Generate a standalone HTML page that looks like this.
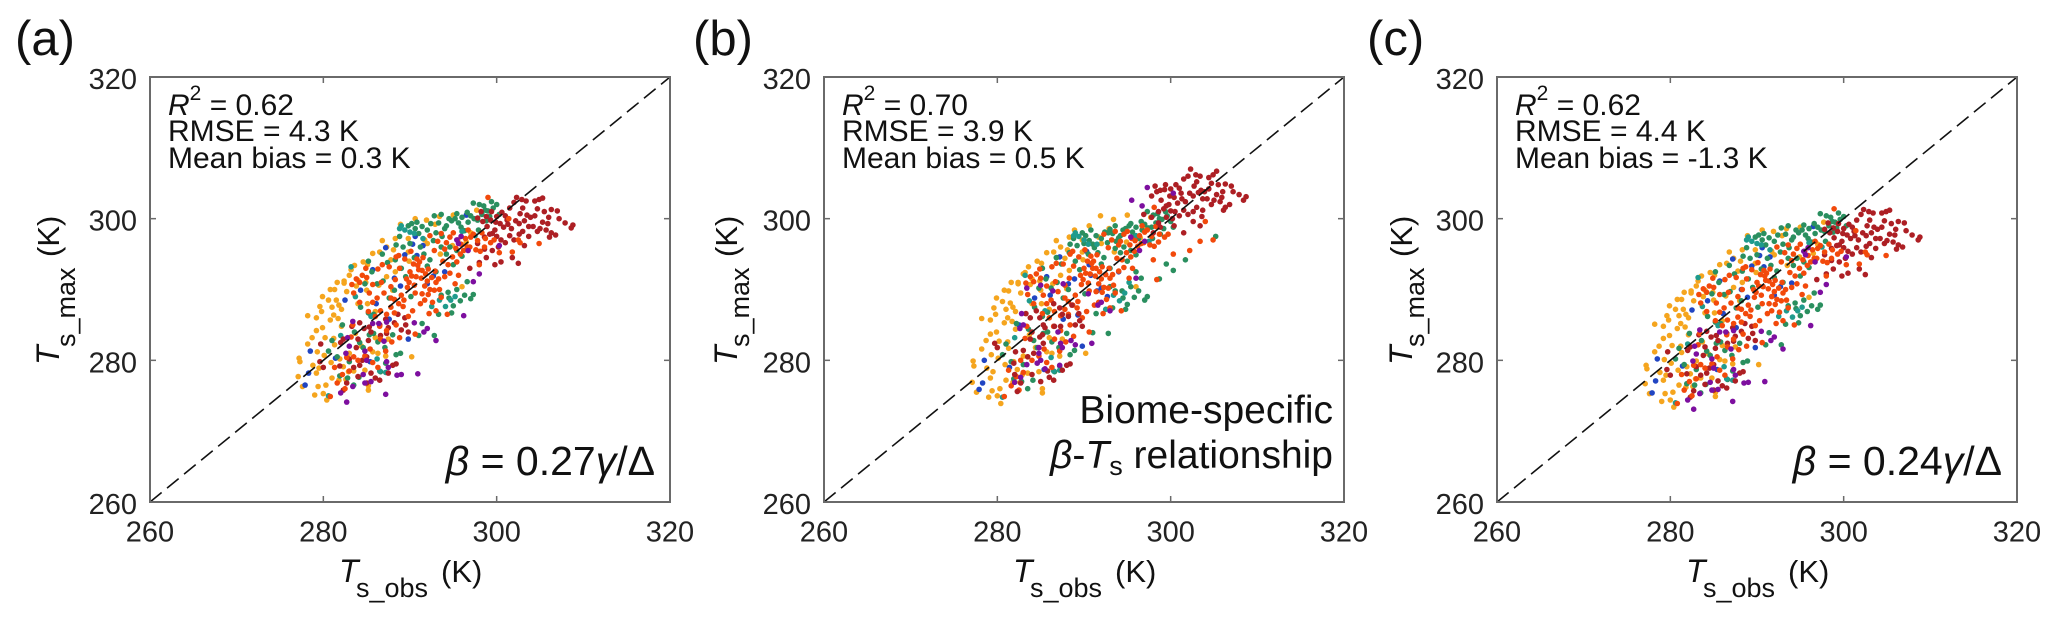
<!DOCTYPE html>
<html lang="en">
<head>
<meta charset="utf-8">
<title>Modelled versus observed surface temperature</title>
<style>
html,body{margin:0;padding:0;background:#fff;}
svg{display:block;font-family:"Liberation Sans",Arial,sans-serif;fill:#111;}
</style>
</head>
<body>
<svg id="chart" width="2067" height="621" viewBox="0 0 2067 621" xmlns="http://www.w3.org/2000/svg">
  <rect x="0" y="0" width="2067" height="621" fill="#fff"/>
  <g id="plots"></g>

  <text x="15" y="55" font-size="49">(a)</text>
  <text x="693" y="55" font-size="49">(b)</text>
  <text x="1367" y="55" font-size="49">(c)</text>

  <g font-size="30">
    <text x="168" y="115"><tspan font-style="italic">R</tspan><tspan font-size="21" dy="-15">2</tspan><tspan dy="15"> = 0.62</tspan></text>
    <text x="168" y="141">RMSE = 4.3 K</text>
    <text x="168" y="168">Mean bias = 0.3 K</text>
  </g>
  <g font-size="30">
    <text x="842" y="115"><tspan font-style="italic">R</tspan><tspan font-size="21" dy="-15">2</tspan><tspan dy="15"> = 0.70</tspan></text>
    <text x="842" y="141">RMSE = 3.9 K</text>
    <text x="842" y="168">Mean bias = 0.5 K</text>
  </g>
  <g font-size="30">
    <text x="1515" y="115"><tspan font-style="italic">R</tspan><tspan font-size="21" dy="-15">2</tspan><tspan dy="15"> = 0.62</tspan></text>
    <text x="1515" y="141">RMSE = 4.4 K</text>
    <text x="1515" y="168">Mean bias = -1.3 K</text>
  </g>

  <text x="655" y="475" font-size="41" text-anchor="end"><tspan font-style="italic">β</tspan> = 0.27<tspan font-style="italic">γ</tspan>/Δ</text>
  <text x="2002" y="475" font-size="41" text-anchor="end"><tspan font-style="italic">β</tspan> = 0.24<tspan font-style="italic">γ</tspan>/Δ</text>
  <text x="1333" y="423" font-size="39" text-anchor="end">Biome-specific</text>
  <text x="1333" y="468" font-size="39" text-anchor="end"><tspan font-style="italic">β</tspan>-<tspan font-style="italic">T</tspan><tspan font-size="27" dy="7">s</tspan><tspan dy="-7"> relationship</tspan></text>

  <g>
    <text x="339" y="582" font-size="32" font-style="italic">T</text><text x="356" y="597" font-size="27">s_obs</text><text x="441" y="582" font-size="31">(K)</text>
  </g>
  <g>
    <text x="1013" y="582" font-size="32" font-style="italic">T</text><text x="1030" y="597" font-size="27">s_obs</text><text x="1115" y="582" font-size="31">(K)</text>
  </g>
  <g>
    <text x="1686" y="582" font-size="32" font-style="italic">T</text><text x="1703" y="597" font-size="27">s_obs</text><text x="1788" y="582" font-size="31">(K)</text>
  </g>

  <g>
    <text transform="translate(59,365) rotate(-90)" font-size="32" font-style="italic">T</text><text transform="translate(75,347) rotate(-90)" font-size="27">s_max</text><text transform="translate(59,257) rotate(-90)" font-size="31">(K)</text>
  </g>
  <g>
    <text transform="translate(737,365) rotate(-90)" font-size="32" font-style="italic">T</text><text transform="translate(749,347) rotate(-90)" font-size="27">s_max</text><text transform="translate(737,257) rotate(-90)" font-size="31">(K)</text>
  </g>
  <g>
    <text transform="translate(1412,365) rotate(-90)" font-size="32" font-style="italic">T</text><text transform="translate(1424,347) rotate(-90)" font-size="27">s_max</text><text transform="translate(1412,257) rotate(-90)" font-size="31">(K)</text>
  </g>
</svg>

<script>
const tickValues = [260, 280, 300, 320];
const identityLine = [260, 320];

const panelAYellow = [[277.2,280.3],[277.3,279.8],[277.1,277.7],[277.6,276.3],[278.2,286.3],[278.2,282.3],[278.7,283.2],[279,275.1],[279.2,278.2],[279.2,286],[279.4,276.3],[279.6,287.6],[279.8,286.9],[279.9,289],[279.9,284.6],[280.2,283.2],[280,275.3],[280.3,276.5],[280.4,274.4],[280.6,288.5],[280.8,290],[280.8,285.7],[281.3,290],[281.6,291],[281.5,288.5],[281.8,287.8],[281.2,286.4],[281.7,285.9],[282.1,284.8],[281.2,283.1],[281.3,282.2],[282.7,289.7],[283.2,292.8],[284,291.3],[284,288],[284.6,293.9],[285.1,293.5],[285.1,288],[285.2,275.8],[285.2,276.4],[282.9,278.4],[282.3,279.1],[285,289.9],[286,286.9],[286.3,281],[285.7,281.2],[287.3,296],[288.3,297.2],[288.1,295.6],[286.5,295.3],[287.3,291.8],[288.3,292.5],[290.2,280.5],[289.8,297.2],[289.8,295.3],[291.9,299.8],[293.4,300.3],[295,300.5],[297.7,301.2],[296,290.4],[291.7,297],[281,277.5],[279.5,278.9],[283,281],[284.4,282],[287.5,283],[283.5,278.5],[283,292],[283.8,290.5],[292,296.5],[293.5,295],[297,298],[281.9,280.2],[282.6,277.3],[280.9,279.7],[278.8,279.3],[279.3,281.2],[280.1,280.7],[282.4,290.9],[283.6,293.4],[285.7,295.1],[286.8,296.9],[284.9,291],[286.4,290.6],[287.8,294.2],[288.9,299.2],[290.6,300],[292.9,299.2],[294.9,296.2],[296.5,296.7],[283.7,283.8],[286,283.2],[287.2,280.6],[281.8,277.2],[284.8,278.6],[288,289.9],[289.9,294],[282.1,287.2],[282.4,291.2],[281,287.5],[279.2,284.2]];
const panelAGreen = [[289.8,299],[290.2,299.3],[290.6,298.6],[291,297.9],[292.8,300.4],[293.7,297.5],[294.2,299],[294.8,299.7],[295.2,300],[295.6,299.4],[295.9,298.8],[296.3,298.3],[296.7,299.5],[297.4,300],[297.9,298.4],[297.3,302.2],[298,302],[298.5,301.8],[299,301.1],[299.6,301.5],[300,302],[300.3,300.6],[299.2,300.3],[298.8,299.7],[294,298.6],[293,298],[288.3,294.2],[289,293],[289.5,291.8],[290.5,294.5],[291.2,296],[292.3,294.2],[293,292.5],[294.2,295],[295,293.5],[285.6,292.5],[286.2,290.8],[286.9,291.2],[287.6,288.8],[288.2,289.9],[294.4,289.6],[294.5,288.8],[295,287.7],[295.8,288.4],[296.3,289.2],[297,288.7],[297.3,289.3],[293.3,286.5],[291.4,285.2],[291,283.5],[285.2,286.7],[285.8,286.5],[283.6,284],[284.6,281.8],[282.2,285],[281,282.8],[280.6,281.3],[281.6,280.5],[283,279.8],[283.5,276.5],[281.9,277.8],[288.4,280.8],[288.9,281],[287.2,279.6],[286.6,278.4],[284.2,282.5],[292.8,283.5],[290.8,299.5],[291.4,298.9],[292,298.4],[292.4,299.3],[293.3,299.4],[293.6,300.6],[294.5,300],[295.4,300.7],[296,300.2],[296.6,300.9],[297,300.4],[297.8,299.8],[298.3,300.6],[298.7,301.2],[299.4,302.4],[288.8,297.5],[288.4,296.3],[289.2,296],[290,296.5],[291.6,295],[292,293.3],[292.7,296.9],[293.6,296],[294.6,296],[295.4,295.5],[296,294.7],[287.4,293.8],[286.8,295],[285.2,294],[284.8,290.8],[284.3,287.5],[285.3,283.6],[286.3,282.6],[282.8,277.5],[284.1,277.6],[287.1,281.8],[285.8,283.8],[288,283.6],[290.1,289],[293.6,289.2],[296.6,291.1],[295.4,290],[294.8,286.7]];
const panelATeal = [[289.4,298.4],[290,298.1],[290.5,297.9],[289,299],[283.7,289],[294.7,288.5],[295.2,289],[292.5,287.6],[280.6,275],[282,283.5],[286.5,278.5],[285.5,286.2],[283.2,293.2],[296,298.2],[297.5,297.6],[286.2,280.2],[288.8,298.6],[291.5,297.2],[294.1,287.6],[287.2,278.3],[293.4,288.5]];
const panelARedOrange = [[289.6,291.5],[290,292.5],[290.4,293.6],[290.8,294.3],[291,292.8],[291.3,291.6],[291.7,290.5],[292,291.2],[292.3,290],[292.8,289.9],[293,291],[291.1,293.9],[291.5,294.5],[290.5,290.6],[289.7,290.3],[294,291.8],[294.6,292.3],[295.2,290.8],[295.6,292],[294.2,296.6],[294.6,297.4],[295,298],[295.5,297],[295.9,296.4],[296.4,297.2],[296.9,296],[297.3,297.8],[297.8,296.9],[298.3,298],[298.7,297.2],[296.7,298.4],[293.2,296.8],[292.8,295.5],[288.4,294.6],[288.2,288.6],[288.7,288],[289.2,287.6],[287.8,287.5],[289.3,288.5],[286.2,288.8],[285.3,289.5],[285.7,288.2],[286.6,287],[287.3,286.5],[287,289.5],[284.5,292],[284.2,291],[283.3,290.7],[283.8,291.5],[286.8,293.5],[287.6,293.2],[286.3,292.9],[288.7,294.8],[290.3,287],[291.2,288],[291.7,288.5],[292.6,288.2],[293,287],[292.2,286.6],[289.8,286.2],[288.4,285],[287.3,284.2],[286.5,284.8],[284,280],[284.8,280.6],[286.3,279],[283,278.5],[281.6,276.8],[280.8,274.9],[282.5,276],[283.5,280.5],[286.6,283],[294.3,286.5],[304.9,296.5],[299,303],[296.6,296],[295.8,295],[293.8,294],[298,293.5],[300.3,295.2],[301.4,300],[302.5,297],[301.8,295.3],[302.7,296.6],[289.9,291],[290.2,291.9],[290.7,291.8],[290.9,293.4],[291.4,292.7],[291.8,292.2],[292.1,292.9],[292.5,291.7],[292.9,292.6],[293.3,291.5],[293.4,290],[293.6,288.9],[292.1,289.3],[291.4,289.4],[290.6,289.5],[294.4,293.5],[294.9,294.6],[295.4,293.9],[295.3,295.8],[296.2,295.5],[297,297.4],[297.6,295.6],[298.1,295.4],[298.6,296],[299.3,296.6],[299.7,297],[294,295.7],[293.6,297.9],[292.3,297.6],[290.1,295.4],[289.4,294.3],[288.8,293],[288.3,291.4],[287.8,290.4],[286.7,291],[285.7,290.7],[285,291.7],[284.9,293],[283.5,289.5],[286,286.2],[287.8,288.8],[288.2,286.7],[289,289.2],[285.2,286.9],[284.2,288.2],[283.2,283.3],[282.7,280.4],[285.4,281.6],[287.2,281.3],[285.7,279.7],[281.3,279],[282.2,278],[283.4,285],[288.8,283.2],[290.6,283.7],[287.9,282.6]];
const panelADarkRed = [[297.8,300.1],[298.4,299.6],[298.9,298.9],[299.3,299.8],[299.8,298.4],[300,297.5],[300.4,299.3],[300.8,298.8],[301.2,299.8],[301.5,301.5],[302,302.3],[302.3,303],[302.7,300.7],[303,301.5],[303.5,300.5],[303.9,300.2],[304.2,298.9],[304.7,298.2],[305,298.6],[305.3,299.5],[305.7,298.4],[304.4,302.5],[304.9,302.7],[305.3,302.9],[305.5,301],[306.3,301.3],[307,301.1],[307.2,300],[307.9,299.4],[308.8,299.1],[308.6,298.7],[306.3,298],[306.8,297.7],[306.1,297.4],[303,298.2],[302.6,297.8],[302,297],[303.2,296.2],[301.8,294.5],[301,296.6],[302.5,293.7],[299.5,295.5],[298.8,294.5],[298,293.8],[297.8,296.5],[299.8,293.5],[300.5,293.9],[296.9,293],[300.5,297],[299.5,297.9],[282,282.5],[282.3,283],[279.7,282.3],[284.2,285.3],[284.7,284.5],[285.3,284.7],[285.5,284],[284,283],[286.5,285],[287.2,285.8],[287.5,284.6],[289.4,286],[289.5,285],[289.8,284],[289,284.3],[284.5,280],[285,280.5],[284.2,279.3],[283.5,279],[285.5,278.2],[286,277.5],[286.5,277.2],[288.4,279.5],[288,279.3],[282.7,276.8],[282.3,275.8],[279.6,279.8],[280,279],[298.2,301],[298.8,300.3],[299.4,301],[300,300.3],[300.6,300.9],[301,300.4],[301.3,299.2],[299.9,299.5],[299.2,297.8],[298.6,297.4],[301.7,298.6],[302.2,299.7],[302.6,299.3],[303.2,299.7],[303.7,298.9],[304.4,300.4],[304.7,301.4],[303.4,302.5],[302.9,302.7],[306,300.2],[305.9,299.3],[301.5,297.6],[300.2,296],[298.6,295.7],[303.7,297.5],[283.3,284.8],[283.8,281.8],[285.2,282.8],[283,280.2],[286.6,283.5],[288.2,285.3],[288.6,286.5],[284,277.7],[285,276.8],[287.5,278.2],[287.3,283.8],[281.9,279.2]];
const panelAPurple = [[283.4,285.5],[282.8,283.2],[283,282],[282.6,281],[284.8,281.3],[285,280],[284.6,278],[285.5,277],[287,282.7],[287.3,279.8],[287.5,279],[288.5,277.9],[289,278],[290.9,278.1],[287.2,275.2],[282,275.4],[282.7,274.1],[283.4,276.3],[284.8,276.8],[286.4,285.2],[290.5,285.3],[291.6,284],[292,284.5],[293,282.8],[296.2,286.3],[297.3,291.1],[298,292.2],[300.3,296.2],[295.6,296.5],[296.7,295.5],[295.4,297],[295.9,297.5],[287.3,285.4],[285.7,285.2]];
const panelABlue = [[287.2,295.9],[288.2,291.6],[284.3,289.9],[282.5,288.5],[285.7,292.8],[277.9,276.5],[278.3,278.2],[278.5,281.3],[281.4,280.3],[285.4,279.8],[288.9,290.5],[289.8,283],[286.5,285],[287.6,285.8],[290.6,297.5],[290.8,294.8],[291.5,296.2],[296.5,300.5],[294,292.5],[292,290.8],[289.4,294.9],[286.1,288],[290.3,296.4],[292.7,291.9]];

const panelBYellow = [[277.2,279.9],[277.3,279.2],[277.1,276.9],[277.6,275.5],[278.2,285.9],[278.2,281.6],[278.7,282.8],[279,274.8],[279.2,277.5],[279.2,285.7],[279.4,275.7],[279.6,287.4],[279.8,286.5],[279.9,288.8],[279.9,284],[280.2,282.7],[280,275],[280.3,276],[280.4,273.9],[280.6,288.3],[280.8,289.9],[280.8,285.3],[281.3,289.8],[281.6,291],[281.5,288.1],[281.8,287.5],[281.2,286],[281.7,285.5],[282.1,284.4],[281.2,282.6],[281.3,281.7],[282.7,289.5],[283.2,292.4],[284,291.5],[284,288],[284.6,294],[285.1,293.7],[285.1,288],[285.2,275.4],[285.2,276],[282.9,278],[282.3,278.7],[285,289.9],[286,287.2],[286.3,281],[285.7,281.2],[287.3,296],[288.3,297.4],[288.1,295.6],[286.5,295.3],[287.3,292],[288.3,292.7],[290.2,281],[289.8,297],[289.8,295.3],[291.9,300.4],[293.4,299.9],[295,300.5],[297.7,300.2],[296,290.4],[291.7,297.4],[281,277.2],[279.5,278.4],[283,280.6],[284.4,281.8],[287.5,283],[283.5,278.2],[283,292.2],[283.8,290.7],[292,296.5],[293.5,295.3],[297,298.5],[281.9,279.8],[282.6,276.9],[280.9,279.4],[278.8,278.9],[279.3,280.8],[280.1,280.3],[282.4,290.8],[283.6,293.2],[285.7,295.2],[286.8,296.9],[284.9,291.2],[286.4,290.8],[287.8,294.4],[288.9,298.4],[290.6,299],[292.9,298.6],[294.9,296.7],[296.5,297.3],[283.7,283.6],[286,283.2],[287.2,280.6],[281.8,276.9],[284.8,278.4],[288,290.1],[289.9,294.2],[282.1,286.9],[282.4,291],[281,287.2],[279.2,283.7]];
const panelBGreen = [[289.8,298],[290.2,297.6],[290.6,296.9],[291,296.4],[292.8,298],[293.7,296.8],[294.2,297.6],[294.8,298.6],[295.2,299],[295.6,298.1],[295.9,297.5],[296.3,297.2],[296.7,298.4],[297.4,298.7],[297.9,297.2],[297.3,301],[298,300.5],[298.5,300.7],[299,299.9],[299.6,300.4],[300,299.6],[300.3,298.8],[299.2,298.6],[298.8,297.8],[294,297.3],[293,298.5],[288.3,295.2],[289,294],[289.5,292.8],[290.5,295],[291.2,295.9],[292.3,294.5],[293,293],[294.2,295.2],[295,294],[285.6,291.5],[286.2,290.2],[286.9,291],[287.6,288.8],[288.2,290],[294.4,289.8],[294.5,288.8],[295,287.9],[295.8,288.9],[296.3,289.8],[297,288.5],[297.3,289],[293.3,287.4],[291.4,286.6],[291,283.9],[285.2,286.2],[285.8,286.8],[283.6,284.4],[284.6,281.8],[282.2,285.2],[281,282.3],[280.6,280.8],[281.6,279.8],[283,279.4],[283.5,276],[281.9,277.4],[288.4,280.8],[288.9,281.4],[287.2,279.2],[286.6,278.4],[284.2,282.8],[292.8,283.8],[305.2,297.5],[301.7,294.2],[300.3,292.7],[299.5,293.6],[298.7,291.5],[293,290.4],[296,292.5],[290.8,298.4],[291.4,297.6],[292,297.2],[292.4,298.1],[293.3,297.9],[293.6,299],[294.5,298.4],[295.4,299.3],[296,298.8],[296.6,299.6],[297,299.2],[297.8,298.8],[298.3,299.4],[298.7,300],[299.4,301],[288.8,297.2],[288.4,296.4],[289.2,296.2],[290,296.5],[291.6,295.2],[292,293.6],[292.7,296.6],[293.6,295.8],[294.6,296],[295.4,295.5],[296,294.9],[287.4,293.6],[286.8,294.5],[285.2,293],[284.8,290.2],[284.3,287.5],[285.3,283.8],[286.3,282.6],[282.8,277],[284.1,277.2],[287.1,281.8],[285.8,284],[288,283.8],[290.1,289.4],[293.6,289.8],[296.6,291.6],[295.4,290.4],[294.8,287.2]];
const panelBTeal = [[289.4,297.5],[290,297],[290.5,296.4],[289,298],[283.7,288.4],[294.7,289.5],[295.2,291],[292.5,287.2],[280.6,274.8],[282,283.2],[286.5,278.5],[285.5,287],[283.2,292],[296,297.6],[297.5,296.8],[286.2,280.4],[288.8,297.6],[291.5,296.4],[294.1,288.4],[287.2,278.6],[293.4,289.2]];
const panelBRedOrange = [[289.6,292],[290,293],[290.4,294],[290.8,294.7],[291,293],[291.3,291.9],[291.7,290.8],[292,291.5],[292.3,290.3],[292.8,290.2],[293,291.6],[291.1,294],[291.5,294.9],[290.5,290.9],[289.7,290.7],[294,292.6],[294.6,293.1],[295.2,291.6],[295.6,293],[294.2,296.8],[294.6,297.8],[295,298.2],[295.5,297.2],[295.9,296.9],[296.4,297.6],[296.9,296.6],[297.3,298.4],[297.8,297.5],[298.3,298.9],[298.7,297.8],[296.7,299],[293.2,297],[292.8,295.9],[288.4,295],[288.2,288.3],[288.7,287.8],[289.2,287.4],[287.8,287.2],[289.3,288.3],[286.2,288.5],[285.3,289.2],[285.7,288],[286.6,286.9],[287.3,286.3],[287,289.7],[284.5,292.2],[284.2,291.1],[283.3,290.9],[283.8,291.8],[286.8,293.7],[287.6,293.6],[286.3,293.2],[288.7,295.4],[290.3,286.9],[291.2,287.8],[291.7,288.2],[292.6,288.6],[293,287.4],[292.2,286.6],[289.8,286],[288.4,285],[287.3,284.2],[286.5,284.8],[284,280],[284.8,280.6],[286.3,279],[283,278.3],[281.6,276.4],[280.8,274.9],[282.5,275.8],[283.5,280.5],[286.6,283],[294.3,287],[304.9,297],[298.1,301.6],[296.6,296.5],[295.8,295.4],[293.8,294.4],[298,294.2],[300.3,295],[302.2,295.5],[303.4,296.8],[304,299.6],[298.4,291.4],[289.9,291.4],[290.2,292.3],[290.7,292.2],[290.9,293.7],[291.4,293],[291.8,292.5],[292.1,293.2],[292.5,292.1],[292.9,293],[293.3,292.1],[293.4,290.6],[293.6,289.5],[292.1,289.6],[291.4,289.7],[290.6,289.8],[294.4,294.2],[294.9,295.2],[295.4,294.6],[295.3,296.3],[296.2,296.1],[297,298.1],[297.6,296.3],[298.1,296.1],[298.6,296.7],[299.3,297.4],[299.7,297.8],[294,296.3],[293.6,298.2],[292.3,297.8],[290.1,295.6],[289.4,294.6],[288.8,293.3],[288.3,291.6],[287.8,290.6],[286.7,291.1],[285.7,290.5],[285,291.6],[284.9,292.9],[283.5,289.3],[286,286],[287.8,288.8],[288.2,286.5],[289,289.2],[285.2,286.6],[284.2,288],[283.2,283.1],[282.7,280],[285.4,281.6],[287.2,281.3],[285.7,279.7],[281.3,278.6],[282.2,277.7],[283.4,284.8],[288.8,283.4],[290.6,284],[287.9,282.6]];
const panelBDarkRed = [[297.8,303.2],[298.4,303.8],[298.9,302.6],[299.3,304.1],[299.8,302],[300,301.1],[300.4,303],[300.8,302.2],[301.2,303.6],[301.5,305.6],[302,306],[302.3,307],[302.7,304.6],[303,305.2],[303.5,304],[303.9,303.8],[304.2,302.8],[304.7,302],[305,302.6],[305.3,303.4],[305.7,302.4],[304.4,305.8],[304.9,306.2],[305.3,306.7],[305.5,304.8],[306.3,304.9],[307,304.6],[307.2,303.8],[307.9,303.4],[308.7,303.1],[308.4,302.6],[306.3,301.6],[306.8,302],[306.1,301.2],[303,301.6],[302.6,301],[302,300.6],[303.6,300.3],[302.6,299.6],[301,300.4],[303.4,299],[299.5,300.2],[298.8,298.8],[298,298],[297.8,300.2],[300.4,299],[301.5,298],[296.9,300.6],[300.5,301],[299.5,301.8],[279.7,282.4],[280,281.8],[282.1,281.2],[284.5,287],[284.9,286],[285.3,285],[285.5,284.6],[284,284],[286.5,288],[287.2,287.4],[287.5,286.5],[289.4,286.6],[289.5,285.6],[289.8,284.8],[289,285],[284.9,283.3],[285.3,282.4],[284.2,281],[283.5,280.5],[285.8,278.5],[286,277.6],[286.5,277.2],[288.4,279.5],[288,279.3],[282.7,276.8],[282.3,275.6],[283.8,286],[282,278],[298.2,304.6],[298.8,304],[299.4,304.8],[300,304.2],[300.6,304.8],[301,304.3],[301.3,302.8],[299.9,303.2],[299.2,301.4],[298.6,301],[301.7,302.4],[302.2,303.6],[302.6,303.2],[303.2,303.7],[303.7,302.8],[304.4,304.2],[304.7,305],[303.4,306],[302.9,306.2],[306,303.8],[305.9,303],[301.5,301.2],[300.2,300],[298.6,299.4],[303.7,301.2],[283.3,286.6],[283.8,283],[285.2,283.6],[283,281.4],[286.6,284.8],[288.2,286.2],[288.6,287.8],[284,278],[285,277],[287.5,278.6],[287.3,284.8],[281.9,279.6]];
const panelBPurple = [[283.4,290.2],[282.8,286.6],[283,285],[282.6,284.5],[284.8,281.8],[285,280],[284.6,279.6],[285.5,278.8],[287,284],[287.3,282.4],[287.5,281.8],[288.5,282.8],[289,282.2],[290.9,282.4],[287.2,279.3],[282,276.9],[282.7,277.6],[283.4,279.4],[284.8,281],[286.4,289.8],[290.5,289.4],[291.6,287.8],[292,288.2],[293,287],[296,291.6],[295.5,302.6],[297.3,304.4],[296.7,301.8],[300.3,303.6],[296.4,295.5],[297,296.8],[295.4,297.4],[285,290.6],[287.6,290.8]];
const panelBBlue = [[287.2,294.6],[288.2,290.8],[284.3,288.8],[282.5,285],[285.7,291.8],[277.9,275.9],[278.3,276.8],[278.5,280],[281.4,279],[285.4,278.7],[288.9,291.5],[289.8,282],[286.5,284.8],[287.6,285.8],[290.6,293.5],[290.8,292],[291.5,289.8],[294,292.5],[292,290.2],[293,290.4],[289.3,286.4],[286.1,289.2],[290.3,295.4],[292.7,289]];

const panelCYellow = [[277.2,279.3],[277.3,278.8],[277.1,276.7],[277.6,275.3],[278.2,285.1],[278.2,281.2],[278.7,282],[279,274.2],[279.2,277.2],[279.2,284.8],[279.4,275.3],[279.6,286.3],[279.8,285.7],[279.9,287.7],[279.9,283.5],[280.2,282.1],[280,274.4],[280.3,275.5],[280.4,273.4],[280.6,287.2],[280.8,288.6],[280.8,284.5],[281.3,288.6],[281.6,289.6],[281.5,287.2],[281.8,286.5],[281.2,285.2],[281.7,284.7],[282.1,283.6],[281.2,282],[281.3,281.1],[282.7,288.4],[283.2,291.2],[284,289.9],[284,286.7],[284.6,292.4],[285.1,292],[285.1,286.7],[285.2,274.9],[285.2,275.5],[282.9,277.4],[282.3,278.1],[285,288.5],[286,285.6],[286.3,279.9],[285.7,280.1],[287.3,294.4],[288.3,295.6],[288.1,294],[286.5,293.7],[287.3,290.3],[288.3,291],[290.2,279.4],[289.8,295.6],[289.8,293.7],[291.9,298.2],[293.4,298.6],[295,298.8],[297.7,299.5],[296,288.9],[291.7,295.4],[281,276.5],[279.5,277.9],[283,279.9],[284.4,280.9],[287.5,281.9],[283.5,277.5],[283,290.5],[283.8,289],[292,294.9],[293.5,293.4],[297,296.4],[281.9,279.1],[282.6,276.3],[280.9,278.6],[278.8,278.3],[279.3,280.1],[280.1,279.6],[282.4,289.5],[283.6,291.9],[285.7,293.5],[286.8,295.3],[284.9,289.6],[286.4,289.1],[287.8,292.6],[288.9,297.6],[290.6,298.4],[292.9,297.6],[294.9,294.6],[296.5,295.1],[283.7,282.6],[286,282.1],[287.2,279.5],[281.8,276.2],[284.8,277.5],[288,288.4],[289.9,292.4],[282.1,286],[282.4,289.8],[281,286.3],[279.2,283.1]];
const panelCGreen = [[289.8,297.4],[290.2,297.7],[290.6,297],[291,296.3],[292.8,298.7],[293.7,295.9],[294.2,297.4],[294.8,298],[295.2,298.4],[295.6,297.7],[295.9,297.2],[296.3,296.7],[296.7,297.9],[297.4,298.4],[297.9,296.8],[297.3,300.7],[298,300.4],[298.5,300.2],[299,299.5],[299.6,299.9],[300,300.3],[300.3,299],[299.2,298.7],[298.8,298.1],[294,297],[293,296.4],[288.3,292.6],[289,291.5],[289.5,290.3],[290.5,292.9],[291.2,294.4],[292.3,292.6],[293,291],[294.2,293.4],[295,291.9],[285.6,291],[286.2,289.3],[286.9,289.7],[287.6,287.4],[288.2,288.4],[294.4,288.1],[294.5,287.3],[295,286.3],[295.8,286.9],[296.3,287.7],[297,287.2],[297.3,287.8],[293.3,285.1],[291.4,283.9],[291,282.2],[285.2,285.4],[285.8,285.2],[283.6,282.8],[284.6,280.7],[282.2,283.8],[281,281.7],[280.6,280.2],[281.6,279.4],[283,278.7],[283.5,275.4],[281.9,276.7],[288.4,279.7],[288.9,279.9],[287.2,278.5],[286.6,277.3],[284.2,281.3],[292.8,282.2],[290.8,297.9],[291.4,297.3],[292,296.8],[292.4,297.7],[293.3,297.8],[293.6,299],[294.5,298.4],[295.4,299.1],[296,298.6],[296.6,299.3],[297,298.8],[297.8,298.2],[298.3,299],[298.7,299.6],[299.4,300.8],[288.8,295.9],[288.4,294.7],[289.2,294.4],[290,294.9],[291.6,293.4],[292,291.7],[292.7,295.3],[293.6,294.4],[294.6,294.4],[295.4,293.9],[296,293.1],[287.4,292.2],[286.8,293.4],[285.2,292.5],[284.8,289.4],[284.3,286.2],[285.3,282.4],[286.3,281.4],[282.8,276.5],[284.1,276.6],[287.1,280.7],[285.8,282.6],[288,282.4],[290.1,287.5],[293.6,287.7],[296.6,289.5],[295.4,288.5],[294.8,285.3]];
const panelCTeal = [[289.4,296.8],[290,296.5],[290.5,296.3],[289,297.4],[283.7,287.6],[294.7,287],[295.2,287.5],[292.5,286.2],[280.6,274],[282,282.3],[286.5,277.4],[285.5,284.9],[283.2,291.7],[296,296.6],[297.5,296],[286.2,279.1],[288.8,297],[291.5,295.6],[294.1,286.1],[287.2,277.2],[293.4,287]];
const panelCRedOrange = [[289.6,290],[290,291],[290.4,292.1],[290.8,292.7],[291,291.3],[291.3,290.1],[291.7,289],[292,289.7],[292.3,288.6],[292.8,288.4],[293,289.5],[291.1,292.3],[291.5,292.9],[290.5,289.2],[289.7,288.9],[294,290.3],[294.6,290.8],[295.2,289.3],[295.6,290.5],[294.2,295],[294.6,295.8],[295,296.4],[295.5,295.4],[295.9,294.8],[296.4,295.6],[296.9,294.4],[297.3,296.2],[297.8,295.3],[298.3,296.4],[298.7,295.6],[296.7,296.8],[293.2,295.2],[292.8,293.9],[288.4,293],[288.2,287.2],[288.7,286.6],[289.2,286.2],[287.8,286.1],[289.3,287.1],[286.2,287.4],[285.3,288.1],[285.7,286.8],[286.6,285.7],[287.3,285.2],[287,288.1],[284.5,290.5],[284.2,289.6],[283.3,289.3],[283.8,290.1],[286.8,292],[287.6,291.7],[286.3,291.4],[288.7,293.2],[290.3,285.6],[291.2,286.6],[291.7,287],[292.6,286.8],[293,285.6],[292.2,285.2],[289.8,284.9],[288.4,283.7],[287.3,283],[286.5,283.6],[284,278.9],[284.8,279.5],[286.3,277.9],[283,277.4],[281.6,275.8],[280.8,273.9],[282.5,275],[283.5,279.4],[286.6,281.9],[294.3,285],[304.9,294.8],[298.9,301.4],[296.6,294.4],[295.8,293.4],[293.8,292.4],[298,291.9],[300.3,293.5],[301.4,298.3],[302.5,295.3],[301.8,293.6],[302.7,294.9],[289.9,289.6],[290.2,290.5],[290.7,290.4],[290.9,291.9],[291.4,291.2],[291.8,290.7],[292.1,291.3],[292.5,290.2],[292.9,291],[293.3,290],[293.4,288.5],[293.6,287.4],[292.1,287.9],[291.4,288],[290.6,288],[294.4,291.9],[294.9,293],[295.4,292.3],[295.3,294.2],[296.2,293.9],[297,295.8],[297.6,294],[298.1,293.8],[298.6,294.4],[299.3,295],[299.7,295.4],[294,294.1],[293.6,296.3],[292.3,296],[290.1,293.8],[289.4,292.8],[288.8,291.5],[288.3,290],[287.8,289],[286.7,289.6],[285.7,289.3],[285,290.3],[284.9,291.6],[283.5,288.1],[286,284.9],[287.8,287.4],[288.2,285.4],[289,287.8],[285.2,285.6],[284.2,286.9],[283.2,282.2],[282.7,279.3],[285.4,280.5],[287.2,280.2],[285.7,278.6],[281.3,278],[282.2,277],[283.4,283.8],[288.8,282],[290.6,282.5],[287.9,281.5]];
const panelCDarkRed = [[297.8,298.5],[298.4,298],[298.9,297.3],[299.3,298.2],[299.8,296.8],[300,295.9],[300.4,297.7],[300.8,297.2],[301.2,298.2],[301.5,299.8],[302,300.6],[302.3,301.3],[302.7,299],[303,299.8],[303.5,298.8],[303.9,298.5],[304.2,297.2],[304.7,296.5],[305,296.9],[305.3,297.8],[305.7,296.7],[304.4,300.8],[304.9,301],[305.3,301.2],[305.5,299.3],[306.3,299.6],[307,299.4],[307.2,298.3],[307.9,297.7],[308.8,297.4],[308.6,297],[306.3,296.3],[306.8,296],[306.1,295.7],[303,296.5],[302.6,296.1],[302,295.3],[303.2,294.5],[301.8,292.9],[301,295],[302.5,292.1],[299.5,293.9],[298.8,292.9],[298,292.2],[297.8,294.9],[299.8,291.9],[300.5,292.3],[296.9,291.4],[300.5,295.4],[299.5,296.3],[282,281.4],[282.3,281.9],[279.7,281.2],[284.2,284.1],[284.7,283.3],[285.3,283.5],[285.5,282.8],[284,281.9],[286.5,283.8],[287.2,284.6],[287.5,283.4],[289.4,284.8],[289.5,283.8],[289.8,282.8],[289,283.1],[284.5,278.9],[285,279.4],[284.2,278.2],[283.5,277.9],[285.5,277.1],[286,276.4],[286.5,276.1],[288.4,278.4],[288,278.2],[282.7,275.7],[282.3,274.8],[279.6,278.7],[280,277.9],[298.2,299.4],[298.8,298.7],[299.4,299.3],[300,298.6],[300.6,299.2],[301,298.8],[301.3,297.6],[299.9,297.9],[299.2,296.2],[298.6,295.8],[301.7,297],[302.2,298],[302.6,297.6],[303.2,298],[303.7,297.2],[304.4,298.8],[304.7,299.7],[303.4,300.8],[302.9,301],[306,298.5],[305.9,297.7],[301.5,295.9],[300.2,294.4],[298.6,294.1],[303.7,295.8],[283.3,283.6],[283.8,280.7],[285.2,281.7],[283,279.1],[286.6,282.4],[288.2,284.1],[288.6,285.2],[284,276.6],[285,275.8],[287.5,277.1],[287.3,282.7],[281.9,278.1]];
const panelCPurple = [[283.4,284.3],[282.8,282],[283,280.9],[282.6,279.9],[284.8,280.2],[285,278.9],[284.6,276.9],[285.5,275.9],[287,281.6],[287.3,278.7],[287.5,277.9],[288.5,276.8],[289,276.9],[290.9,277],[287.2,274.2],[282,274.4],[282.7,273.1],[283.4,275.3],[284.8,275.8],[286.4,284],[290.5,284.1],[291.6,282.8],[292,283.3],[293,281.6],[296.2,284.9],[297.3,289.6],[298,290.7],[300.3,294.6],[295.6,294.9],[296.7,293.9],[295.4,295.4],[295.9,295.9],[287.3,284.2],[285.7,284]];
const panelCBlue = [[287.2,294.3],[288.2,290],[284.3,288.4],[282.5,287.1],[285.7,291.2],[277.9,275.4],[278.3,277.1],[278.5,280.2],[281.4,279.2],[285.4,278.7],[288.9,288.9],[289.8,281.8],[286.5,283.8],[287.6,284.6],[290.6,295.9],[290.8,293.2],[291.5,294.6],[296.5,298.9],[294,290.9],[292,289.2],[289.4,293.3],[286.1,286.6],[290.3,294.8],[292.7,290.4]];

const seriesColors = {yellow:'#f5a51e', blue:'#2145c2', green:'#2a8f5f', teal:'#1f9b8d', purple:'#7d0f9f', redOrange:'#f2490b', darkRed:'#ad1f24'};

const panels = [
  {id:'a', left:150, series:{yellow:panelAYellow, blue:panelABlue, green:panelAGreen, teal:panelATeal, darkRed:panelADarkRed, redOrange:panelARedOrange, purple:panelAPurple}},
  {id:'b', left:824, series:{yellow:panelBYellow, blue:panelBBlue, green:panelBGreen, teal:panelBTeal, redOrange:panelBRedOrange, darkRed:panelBDarkRed, purple:panelBPurple}},
  {id:'c', left:1497, series:{yellow:panelCYellow, blue:panelCBlue, green:panelCGreen, teal:panelCTeal, darkRed:panelCDarkRed, redOrange:panelCRedOrange, purple:panelCPurple}}
];

const NS = 'http://www.w3.org/2000/svg';
const plotsRoot = document.getElementById('plots');
const plotWidth = 520;
const plotTop = 77;
const plotBottom = 502;

function xScale(panel, v) { return panel.left + (v - tickValues[0]) / (tickValues[tickValues.length - 1] - tickValues[0]) * plotWidth; }
function yScale(v) { return plotBottom - (v - tickValues[0]) / (tickValues[tickValues.length - 1] - tickValues[0]) * (plotBottom - plotTop); }

function make(tag, attrs, parent) {
  const el = document.createElementNS(NS, tag);
  for (const k in attrs) el.setAttribute(k, attrs[k]);
  parent.appendChild(el);
  return el;
}

panels.forEach(function (panel) {
  const group = make('g', {}, plotsRoot);
  
  

  Object.keys(panel.series).forEach(function (key) {
    const seriesGroup = make('g', {fill: seriesColors[key]}, group);
    
    
    panel.series[key].forEach(function (pt) {
      const dot = make('circle', {cx: xScale(panel, pt[0]).toFixed(1), cy: yScale(pt[1]).toFixed(1), r: 2.8}, seriesGroup);
      
      
    });
  });

  const diagonal = make('line', {
    x1: xScale(panel, identityLine[0]), y1: yScale(identityLine[0]),
    x2: xScale(panel, identityLine[1]), y2: yScale(identityLine[1]),
    stroke: '#111', 'stroke-width': 1.6, 'stroke-dasharray': '15 7'
  }, group);
  
  

  const frame = make('rect', {
    x: xScale(panel, tickValues[0]), y: plotTop, width: plotWidth, height: plotBottom - plotTop,
    fill: 'none', stroke: '#6a6a6a', 'stroke-width': 2
  }, group);
  
  

  tickValues.forEach(function (v, i) {
    const x = xScale(panel, v);
    const y = yScale(v);
    if (i > 0 && i < tickValues.length - 1) {
      const tickLen = 6;
      const tickSegments = [
        [x, plotBottom, x, plotBottom - tickLen],
        [x, plotTop, x, plotTop + tickLen],
        [panel.left, y, panel.left + tickLen, y],
        [panel.left + plotWidth, y, panel.left + plotWidth - tickLen, y]
      ];
      tickSegments.forEach(function (s) {
        const tick = make('line', {x1: s[0], y1: s[1], x2: s[2], y2: s[3], stroke: '#6a6a6a', 'stroke-width': 1.5}, group);
        
        
      });
    }
    const xLabel = make('text', {x: x, y: 541.5, 'font-size': 29, 'text-anchor': 'middle', fill: '#222'}, group);
    xLabel.textContent = v;
    
    
    const yLabel = make('text', {x: panel.left - 13, y: y + 12, 'font-size': 29, 'text-anchor': 'end', fill: '#222'}, group);
    yLabel.textContent = v;
    
    
  });
});
</script>
</body>
</html>
